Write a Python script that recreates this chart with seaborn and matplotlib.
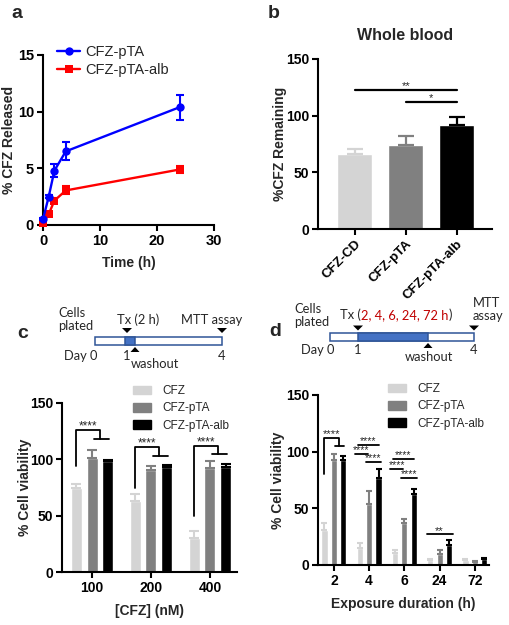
import numpy as np
import pandas as pd
import matplotlib
matplotlib.use("Agg")
import matplotlib.pyplot as plt
import seaborn as sns
from matplotlib.patches import Rectangle, Polygon
from matplotlib.lines import Line2D

# ---------------- data ----------------
# panel a: release
time_h = [0, 1, 2, 4, 24]
pta_rel = [0.5, 2.5, 4.8, 6.5, 10.4]
pta_err = [0.1, 0.15, 0.6, 0.8, 1.1]
alb_rel = [0.2, 0.95, 2.15, 3.05, 4.9]
alb_err = [0.1, 0.1, 0.2, 0.35, 0.35]

# panel b: whole blood
b_groups = ["CFZ-CD", "CFZ-pTA", "CFZ-pTA-alb"]
b_means = [66, 74, 91.5]
b_sd = [4.5, 8, 7]

# panel c: 2 h exposure
formulations = ["CFZ", "CFZ-pTA", "CFZ-pTA-alb"]
c_conc = ["100", "200", "400"]
c_cfz = [75, 63, 30.5]
c_pta = [101.5, 90.2, 92.3]
c_alb = [98.5, 93.2, 93.2]
c_cfz_sd = [3.5, 6.5, 6]
c_pta_sd = [6.5, 3.6, 6.2]
c_alb_sd = [1.2, 2.1, 3]

# panel d: exposure duration
d_dur = ["2", "4", "6", "24", "72"]
d_cfz = [31, 14.7, 11, 4.4, 4.4]
d_pta = [92.6, 54, 36.8, 9.7, 3]
d_alb = [93, 77, 63, 17.6, 5]
d_cfz_sd = [6, 5, 2, 1, 1]
d_pta_sd = [5.5, 11.5, 3.5, 3.3, 0.8]
d_alb_sd = [3, 7.4, 3.8, 4.4, 0.8]

bar_colors = ["#d4d4d4", "#808080", "#000000"]

# ---------------- style ----------------
sns.set_theme(style="ticks")
plt.rcParams["font.family"] = ["Liberation Sans", "DejaVu Sans"]
plt.rcParams["axes.linewidth"] = 1.5
plt.rcParams["xtick.major.width"] = 1.5
plt.rcParams["ytick.major.width"] = 1.5
plt.rcParams["xtick.major.size"] = 4.5
plt.rcParams["ytick.major.size"] = 4.5
plt.rcParams["xtick.color"] = "black"
plt.rcParams["ytick.color"] = "black"
plt.rcParams["axes.edgecolor"] = "black"

W, H = 509, 625
fig = plt.figure(figsize=(W / 100, H / 100), dpi=100)


def px_axes(left, top, right, bottom):
    return fig.add_axes([left / W, 1 - bottom / H, (right - left) / W, (bottom - top) / H])


def style_ax(ax, fs=10):
    sns.despine(ax=ax)
    for lab in ax.get_xticklabels() + ax.get_yticklabels():
        lab.set_fontweight("bold")
        lab.set_fontsize(fs)
        lab.set_color("black")
    ax.tick_params(axis="both", pad=2)


def place_labels(ax, box, ylab_right_px, xlab_top_px):
    left, top, right, bottom = box
    ax.yaxis.set_label_coords((ylab_right_px - left) / (right - left), 0.5)
    ax.xaxis.set_label_coords(0.5, (bottom - xlab_top_px) / (bottom - top))


lab_kw = dict(fontsize=10, fontweight="bold")


def stars(ax, x, y, label, fs):
    ax.annotate(label, xy=(x, y), xytext=(0, 0.4), textcoords="offset points",
                ha="center", va="baseline", fontsize=fs, annotation_clip=False)


# ---------------- panel a ----------------
box_a = (43, 55, 214, 225)
axa = px_axes(*box_a)
sns.lineplot(x=time_h, y=pta_rel, ax=axa, color="#0000ff", marker="o", markersize=6,
             markeredgewidth=0, linewidth=1.7, clip_on=False, zorder=4)
sns.lineplot(x=time_h, y=alb_rel, ax=axa, color="#ff0000", marker="s", markersize=6,
             markeredgewidth=0, linewidth=1.7, clip_on=False, zorder=3)
axa.errorbar(time_h, pta_rel, yerr=pta_err, fmt="none", ecolor="#0000ff", elinewidth=1.5,
             capsize=3, capthick=1.5, clip_on=False, zorder=4)
axa.errorbar(time_h, alb_rel, yerr=alb_err, fmt="none", ecolor="#ff0000", elinewidth=1.5,
             capsize=3, capthick=1.5, clip_on=False, zorder=3)
axa.set_xlim(0, 30)
axa.set_ylim(0, 15)
axa.set_xticks([0, 10, 20, 30])
axa.set_yticks([0, 5, 10, 15])
style_ax(axa, 10.5)
axa.set_xlabel("Time (h)", **lab_kw)
axa.set_ylabel("% CFZ Released", **lab_kw)
place_labels(axa, box_a, 16, 256)
leg_a = [Line2D([0], [0], color="#0000ff", marker="o", markersize=6, lw=1.7, markeredgewidth=0),
         Line2D([0], [0], color="#ff0000", marker="s", markersize=6, lw=1.7, markeredgewidth=0)]
axa.legend(leg_a, ["CFZ-pTA", "CFZ-pTA-alb"], loc="upper left", frameon=False,
           bbox_to_anchor=(57 / W, 1 - 45 / H), bbox_transform=fig.transFigure,
           fontsize=10.5, handlelength=1.6, handletextpad=0.35, labelspacing=0.25, borderpad=0,
           borderaxespad=0)

# ---------------- panel b ----------------
box_b = (318, 59, 492, 229)
axb = px_axes(*box_b)
dfb = pd.DataFrame({"group": b_groups, "val": b_means})
sns.barplot(data=dfb, x="group", y="val", hue="group", palette=bar_colors, width=0.68,
            errorbar=None, legend=False, ax=axb, saturation=1)
for bar, sd, col in zip(axb.patches, b_sd, bar_colors):
    xc = bar.get_x() + bar.get_width() / 2
    axb.errorbar([xc], [bar.get_height()], yerr=[[0], [sd]], fmt="none", ecolor=col,
                 elinewidth=1.6, capsize=6, capthick=1.6)
axb.set_xlim(-0.72, 2.69)
axb.set_ylim(0, 150)
axb.set_yticks([0, 50, 100, 150])
style_ax(axb, 10)
axb.set_xticks(range(3))
axb.set_xticklabels(b_groups, rotation=45, ha="right", rotation_mode="anchor",
                    fontweight="bold", fontsize=9.5)
axb.set_xlabel("")
axb.set_ylabel("%CFZ Remaining", **lab_kw)
place_labels(axb, box_b, 287, 300)
axb.set_title("Whole blood", fontsize=11.5, fontweight="bold", pad=14)
# significance
axb.plot([0, 2], [123, 123], color="black", lw=1.6, clip_on=False)
stars(axb, 1, 123, "**", 8)
axb.plot([1, 2], [112, 112], color="black", lw=1.6, clip_on=False)
stars(axb, 1.5, 112, "*", 8)


# ---------------- bar panels c / d ----------------
def grouped(ax, cats, series, sds, gap, capsize):
    rows = []
    for form, vals in zip(formulations, series):
        for c, v in zip(cats, vals):
            rows.append({"cat": c, "form": form, "val": v})
    df = pd.DataFrame(rows)
    sns.barplot(data=df, x="cat", y="val", hue="form", hue_order=formulations,
                palette=bar_colors, width=0.8, gap=gap, errorbar=None, legend=False,
                ax=ax, saturation=1)
    centers = {}
    for cont, form, sd, col in zip(ax.containers, formulations, sds, bar_colors):
        xs, tops = [], []
        for bar in cont:
            xs.append(bar.get_x() + bar.get_width() / 2)
            tops.append(bar.get_height())
        ax.errorbar(xs, tops, yerr=[np.zeros(len(sd)), sd], fmt="none", ecolor=col,
                    elinewidth=1.5, capsize=capsize, capthick=1.5)
        centers[form] = (xs, tops)
    return centers


def tbracket(ax, x0, x1, x2, low, top, seg, fs):
    xm = (x1 + x2) / 2
    kw = dict(color="black", lw=1.3, clip_on=False)
    ax.plot([x0, x0, xm, xm], [low, top, top, seg], **kw)
    ax.plot([x1 + (x2 - x1) * 0.15, x2 + (x2 - x1) * 0.1], [seg, seg], **kw)
    stars(ax, (x0 + xm) / 2, top, "****", fs)


def hline(ax, xa, xb, y, label, fs=7.5):
    ax.plot([xa, xb], [y, y], color="black", lw=1.3, clip_on=False)
    stars(ax, (xa + xb) / 2, y, label, fs)


legend_handles = [Rectangle((0, 0), 1, 1, color=c) for c in bar_colors]
leg_kw = dict(loc="upper left", frameon=False, bbox_transform=fig.transFigure,
              fontsize=8.5, handlelength=1.5, handleheight=0.75, handletextpad=1.0,
              labelspacing=0.45, borderpad=0, borderaxespad=0)

# panel c
box_c = (62, 403, 237, 572)
axc = px_axes(*box_c)
cen = grouped(axc, c_conc, [c_cfz, c_pta, c_alb], [c_cfz_sd, c_pta_sd, c_alb_sd], 0.3, 3.5)
axc.set_xlim(-0.51, 2.46)
axc.set_ylim(0, 150)
axc.set_yticks([0, 50, 100, 150])
style_ax(axc, 10)
axc.set_xlabel("[CFZ] (nM)", **lab_kw)
axc.set_ylabel("% Cell viability", **lab_kw)
place_labels(axc, box_c, 32, 604)
c_low = [94, 75, 50]
c_top = [126, 111, 112]
c_seg = [118, 103, 105]
for i in range(3):
    tbracket(axc, cen["CFZ"][0][i], cen["CFZ-pTA"][0][i], cen["CFZ-pTA-alb"][0][i],
             c_low[i], c_top[i], c_seg[i], 8.5)
axc.legend(legend_handles, formulations, bbox_to_anchor=(133 / W, 1 - 385 / H), **leg_kw)

# panel d
box_d = (318, 395, 489, 565)
axd = px_axes(*box_d)
cen = grouped(axd, d_dur, [d_cfz, d_pta, d_alb], [d_cfz_sd, d_pta_sd, d_alb_sd], 0.35, 2.2)
axd.set_xlim(-0.45, 4.4)
axd.set_ylim(0, 150)
axd.set_yticks([0, 50, 100, 150])
style_ax(axd, 10)
axd.set_xlabel("Exposure duration (h)", **lab_kw)
axd.set_ylabel("% Cell viability", **lab_kw)
place_labels(axd, box_d, 285, 597)
xc_, xp_, xa_ = cen["CFZ"][0], cen["CFZ-pTA"][0], cen["CFZ-pTA-alb"][0]
tbracket(axd, xc_[0], xp_[0], xa_[0], 80, 112, 105, 8)
hline(axd, xc_[1] - 0.05, xa_[1], 106, "****")
hline(axd, xc_[1] - 0.14, xp_[1] - 0.03, 98, "****")
hline(axd, xp_[1] - 0.1, xa_[1] + 0.08, 91, "****")
hline(axd, xc_[2] - 0.05, xa_[2], 93.5, "****")
hline(axd, xc_[2] - 0.14, xp_[2] - 0.03, 85, "****")
hline(axd, xp_[2] - 0.1, xa_[2] + 0.08, 77, "****")
hline(axd, xc_[3] - 0.1, xa_[3] + 0.1, 27, "**", 8)
axd.legend(legend_handles, formulations, bbox_to_anchor=(388 / W, 1 - 383 / H), **leg_kw)

# ---------------- overlay: labels and schematics ----------------
ov = fig.add_axes([0, 0, 1, 1])
ov.set_xlim(0, W)
ov.set_ylim(H, 0)
ov.axis("off")
ov.patch.set_alpha(0)

for lab, x, y in [("a", 11, 18), ("b", 268, 18), ("c", 17, 338), ("d", 269, 336)]:
    ov.text(x, y, lab, fontsize=14, fontweight="bold", ha="left", va="baseline")

SFS = 9.3
sf = dict(family=["Lato", "DejaVu Sans"], fontsize=SFS, va="baseline")
edge = "#2f5597"
fill = "#4472c4"


def tri(x, y, down=True, w=5, h=5):
    if down:
        pts = [(x - w, y - h), (x + w, y - h), (x, y)]
    else:
        pts = [(x - w, y + h), (x + w, y + h), (x, y)]
    ov.add_patch(Polygon(pts, closed=True, color="black", lw=0))


# schematic c
ov.text(58, 317, "Cells", **sf)
ov.text(58, 330, "plated", **sf)
ov.text(117, 324, "Tx (2 h)", **sf)
ov.text(181, 324, "MTT assay", **sf)
ov.add_patch(Rectangle((95, 337), 127, 7.5, facecolor="white", edgecolor=edge, lw=1.1))
ov.add_patch(Rectangle((125, 337), 10, 7.5, facecolor=fill, edgecolor=edge, lw=1.1))
tri(127, 333)
tri(222, 333)
tri(135, 347, down=False, w=4.5)
ov.text(64, 360, "Day 0", **sf)
ov.text(127, 360, "1", ha="center", **sf)
ov.text(222, 360, "4", ha="center", **sf)
ov.text(131, 368, "washout", **sf)

# schematic d
ov.text(294, 313, "Cells", **sf)
ov.text(294, 326, "plated", **sf)
t1 = ov.text(340, 319, "Tx (", **sf)
t2 = ov.annotate("2, 4, 6, 24, 72 h", xy=(1, 0), xycoords=t1, ha="left", va="bottom",
                 color="#c00000", family=["Lato", "DejaVu Sans"], fontsize=SFS)
ov.annotate(")", xy=(1, 0), xycoords=t2, ha="left", va="bottom",
            family=["Lato", "DejaVu Sans"], fontsize=SFS)
ov.text(473, 307, "MTT", **sf)
ov.text(473, 320, "assay", **sf)
ov.add_patch(Rectangle((330, 333), 144, 8, facecolor="white", edgecolor=edge, lw=1.1))
ov.add_patch(Rectangle((358, 333), 70, 8, facecolor=fill, edgecolor=edge, lw=1.1))
tri(358, 330.5)
tri(474, 330.5)
tri(428, 343, down=False, w=4.5)
ov.text(301, 354, "Day 0", **sf)
ov.text(358, 354, "1", ha="center", **sf)
ov.text(474, 354, "4", ha="center", **sf)
ov.text(429, 361, "washout", ha="center", **sf)

fig.savefig("out.png", dpi=100)
